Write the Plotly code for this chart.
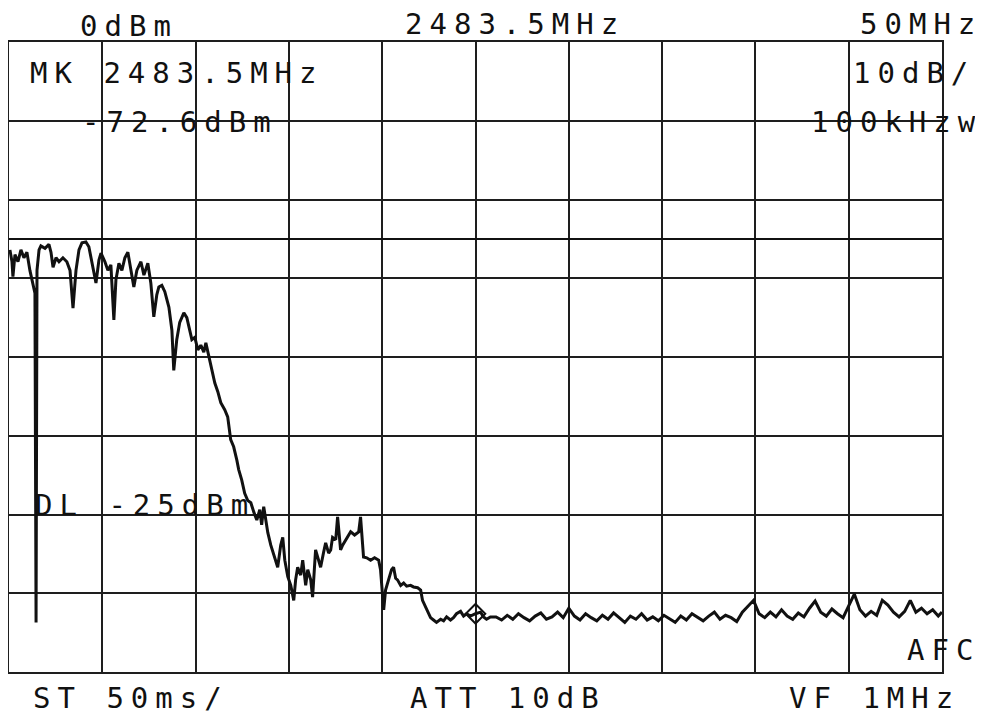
import plotly.graph_objects as go

# ---------------- data ----------------
# Spectrum analyser: centre 2483.5 MHz, span 50 MHz, ref 0 dBm, 10 dB/div
CENTER_MHZ = 2483.5
SPAN_MHZ = 50.0
REF_DBM = 0.0
DB_PER_DIV = 10.0
DL_DBM = -25.0            # display line
MARKER_MHZ = 2483.5
MARKER_DBM = -72.6

# passband segment
freq_pass = [
    2458.55, 2458.66, 2458.71, 2458.82, 2458.98, 2459.14, 2459.30, 2459.46, 2459.62, 2459.78,
    2459.89, 2459.95, 2460.00, 2460.11, 2460.21, 2460.43, 2460.64, 2460.75, 2460.86, 2461.02,
    2461.18, 2461.39, 2461.60, 2461.77, 2461.93, 2462.09, 2462.25, 2462.41, 2462.62, 2462.78,
    2462.94, 2463.16, 2463.32, 2463.43, 2463.64, 2463.80, 2463.96, 2464.12, 2464.23, 2464.39,
    2464.55, 2464.71, 2464.87, 2465.03, 2465.19, 2465.35, 2465.57, 2465.73, 2465.94, 2466.10,
]
level_pass = [
    -26.4, -27.9, -29.8, -27.0, -27.9, -26.4, -27.4, -26.7, -29.0, -30.9,
    -31.9, -73.7, -29.0, -26.4, -25.9, -26.2, -25.7, -26.7, -28.6, -27.4,
    -27.9, -27.4, -27.9, -29.0, -33.8, -29.0, -26.4, -25.5, -25.4, -26.0,
    -27.9, -30.6, -27.7, -26.8, -27.9, -29.0, -28.3, -35.3, -30.2, -28.1,
    -29.0, -27.4, -26.7, -29.0, -31.1, -29.0, -27.9, -29.6, -28.1, -30.6,
]

# roll-off segment
freq_roll = [
    2466.26, 2466.42, 2466.53, 2466.69, 2466.85, 2467.07, 2467.23, 2467.33, 2467.49, 2467.65,
    2467.87, 2468.03, 2468.19, 2468.30, 2468.46, 2468.62, 2468.78, 2468.94, 2469.05, 2469.21,
    2469.37, 2469.53, 2469.69, 2469.85, 2470.06, 2470.22, 2470.38, 2470.54, 2470.71, 2470.81,
    2470.97, 2471.13, 2471.29, 2471.46, 2471.62, 2471.78, 2471.94, 2472.04, 2472.15, 2472.26,
    2472.37, 2472.53, 2472.69, 2472.90, 2473.06, 2473.17, 2473.28, 2473.44, 2473.60, 2473.76,
    2473.86, 2473.97, 2474.13, 2474.24, 2474.40, 2474.51, 2474.67, 2474.77, 2474.93, 2475.10,
    2475.20, 2475.36, 2475.47, 2475.63, 2475.74, 2475.84, 2476.01, 2476.11, 2476.27, 2476.38,
    2476.54, 2476.70, 2476.81, 2477.02, 2477.24, 2477.34, 2477.50, 2477.67, 2477.88, 2478.09,
    2478.31, 2478.41, 2478.58, 2478.68, 2478.79, 2478.90, 2479.00, 2479.11, 2479.22, 2479.32,
    2479.49, 2479.65, 2479.81, 2480.02, 2480.18, 2480.40, 2480.56, 2480.66, 2480.77, 2480.93,
    2481.09,
]
level_roll = [
    -34.9, -32.1, -31.1, -30.9, -31.7, -33.7, -36.6, -41.7, -37.8, -35.6,
    -34.4, -35.0, -36.6, -37.8, -37.5, -39.1, -38.5, -39.4, -38.2, -40.0,
    -41.9, -43.3, -44.4, -45.8, -46.7, -47.6, -50.5, -51.4, -53.1, -54.3,
    -55.6, -57.3, -58.2, -58.5, -59.7, -60.7, -59.4, -61.3, -59.0, -60.7,
    -62.3, -63.9, -65.1, -66.7, -63.9, -62.9, -65.8, -67.9, -69.0, -70.9,
    -68.3, -66.7, -67.7, -65.8, -69.0, -67.0, -68.3, -70.5, -64.5, -65.8,
    -66.7, -64.8, -63.6, -64.9, -64.5, -62.9, -63.2, -60.3, -64.5, -63.9,
    -63.2, -62.6, -62.2, -62.6, -62.2, -60.3, -65.4, -65.5, -65.8, -65.5,
    -65.8, -67.0, -72.1, -69.6, -68.7, -67.7, -67.0, -66.7, -68.1, -68.3,
    -69.0, -68.7, -69.1, -69.0, -69.2, -69.3, -69.6, -70.9, -71.5, -72.4,
    -73.1,
]

# around the marker
freq_mark = [
    2481.25, 2481.41, 2481.63, 2481.79, 2481.95, 2482.16, 2482.32, 2482.48, 2482.70, 2482.86,
    2483.02, 2483.23, 2483.50, 2483.77, 2483.93, 2484.09, 2484.30,
]
level_mark = [
    -73.4, -73.7, -73.3, -73.5, -73.0, -73.4, -73.1, -72.6, -72.3, -72.9,
    -72.6, -72.9, -72.6, -72.4, -73.0, -73.3, -73.0,
]

# noise floor
freq_floor = [
    2484.6, 2484.9, 2485.2, 2485.5, 2485.8, 2486.1, 2486.4, 2486.7, 2487.0, 2487.3,
    2487.6, 2487.9, 2488.2, 2488.5, 2488.8, 2489.1, 2489.4, 2489.7, 2490.0, 2490.3,
    2490.6, 2490.9, 2491.2, 2491.5, 2491.8, 2492.1, 2492.4, 2492.7, 2493.0, 2493.3,
    2493.6, 2493.9, 2494.2, 2494.5, 2494.8, 2495.1, 2495.4, 2495.7, 2496.0, 2496.3,
    2496.6, 2496.9, 2497.2, 2497.5, 2497.8, 2498.1, 2498.4, 2498.7, 2499.0, 2499.3,
    2499.6, 2499.9, 2500.2, 2500.5, 2500.8, 2501.1, 2501.4, 2501.7, 2502.0, 2502.3,
    2502.6, 2502.9, 2503.2, 2503.5, 2503.8, 2504.1, 2504.4, 2504.7, 2505.0, 2505.3,
    2505.6, 2505.9, 2506.2, 2506.5, 2506.8, 2507.1, 2507.4, 2507.7, 2508.0, 2508.3,
    2508.5,
]
level_floor = [
    -73.0, -73.4, -72.8, -73.3, -72.6, -73.1, -73.5, -72.9, -72.5, -73.3,
    -73.0, -72.4, -73.1, -71.9, -72.9, -73.4, -72.6, -73.1, -73.5, -72.8,
    -73.3, -72.5, -73.1, -73.7, -72.9, -73.3, -72.6, -73.4, -73.0, -73.5,
    -72.8, -73.3, -73.7, -72.9, -73.4, -72.6, -73.1, -73.5, -72.9, -72.4,
    -73.3, -72.8, -73.1, -73.6, -72.4, -71.6, -70.9, -72.6, -73.1, -72.4,
    -73.0, -72.1, -72.9, -73.3, -72.5, -73.0, -71.9, -71.0, -72.4, -72.9,
    -72.0, -72.6, -73.1, -71.6, -70.1, -72.1, -72.9, -72.3, -72.8, -70.9,
    -71.5, -72.4, -73.0, -72.3, -70.9, -72.4, -71.9, -72.6, -72.1, -72.9,
    -72.4,
]

# screen annotations (text strings)
label_texts = ["0dBm", "2483.5MHz", "50MHz", "MK 2483.5MHz", "-72.6dBm",
               "10dB/", "100kHzw", "DL -25dBm", "AFC", "ST 50ms/",
               "ATT 10dB", "VF 1MHz"]

# ---------------- figure ----------------
freq = freq_pass + freq_roll + freq_mark + freq_floor
level = level_pass + level_roll + level_mark + level_floor

# the page body has an 8px margin, so the figure is placed 8px in
OFF = 8
W, H = 983 - OFF, 717 - OFF
L, R, T, B = 9 - OFF, 942 - OFF, 42 - OFF, 672 - OFF

x0 = CENTER_MHZ - SPAN_MHZ / 2
x1 = CENTER_MHZ + SPAN_MHZ / 2
y1 = REF_DBM
y0 = REF_DBM - 8 * DB_PER_DIV

INK = "#111111"
fig = go.Figure()
fig.add_trace(go.Scatter(x=freq, y=level, mode="lines",
                         line=dict(color=INK, width=3), hoverinfo="skip",
                         showlegend=False))
fig.add_trace(go.Scatter(x=[MARKER_MHZ], y=[MARKER_DBM], mode="markers",
                         marker=dict(symbol="diamond-open", size=15, color=INK,
                                     line=dict(color=INK, width=2)),
                         showlegend=False, hoverinfo="skip"))
fig.add_hline(y=DL_DBM, line=dict(color=INK, width=2))

axis_common = dict(showgrid=True, gridcolor="#1e1e1e", gridwidth=2,
                   showline=True, linecolor="#1e1e1e", linewidth=2, mirror=True,
                   zeroline=False, showticklabels=False, ticks="")
fig.update_xaxes(range=[x0, x1], tick0=x0, dtick=SPAN_MHZ / 10, **axis_common)
fig.update_yaxes(range=[y0, y1], tick0=y0, dtick=DB_PER_DIV, **axis_common)


def px(x):
    # screen pixel x -> paper fraction
    return (x - OFF - L) / (R - L)


def py(y):
    # screen pixel y -> paper fraction
    return (B - (y - OFF)) / (B - T)


# (screen pixel x, screen pixel y centre, anchor) for each label
label_pos = [(80, 26, "left"), (405, 24, "left"), (982, 24, "right"),
             (30, 73, "left"), (82, 122, "left"), (975, 73, "right"),
             (982, 122, "right"), (35, 505, "left"), (980, 650, "right"),
             (33, 698, "left"), (410, 698, "left"), (960, 698, "right")]

for txt, (xp, yp, anc) in zip(label_texts, label_pos):
    fig.add_annotation(
        text='<span style="letter-spacing:7px">' + txt + "</span>",
        xref="paper", yref="paper", x=px(xp), y=py(yp),
        xanchor=anc, yanchor="middle", showarrow=False,
        font=dict(family="DejaVu Sans Mono", size=29, color=INK),
        borderpad=0, borderwidth=0)

fig.update_layout(width=W, height=H, autosize=False,
                  margin=dict(l=L, r=W - R, t=T, b=H - B),
                  paper_bgcolor="white", plot_bgcolor="white",
                  showlegend=False)

fig.write_html("out.html")
